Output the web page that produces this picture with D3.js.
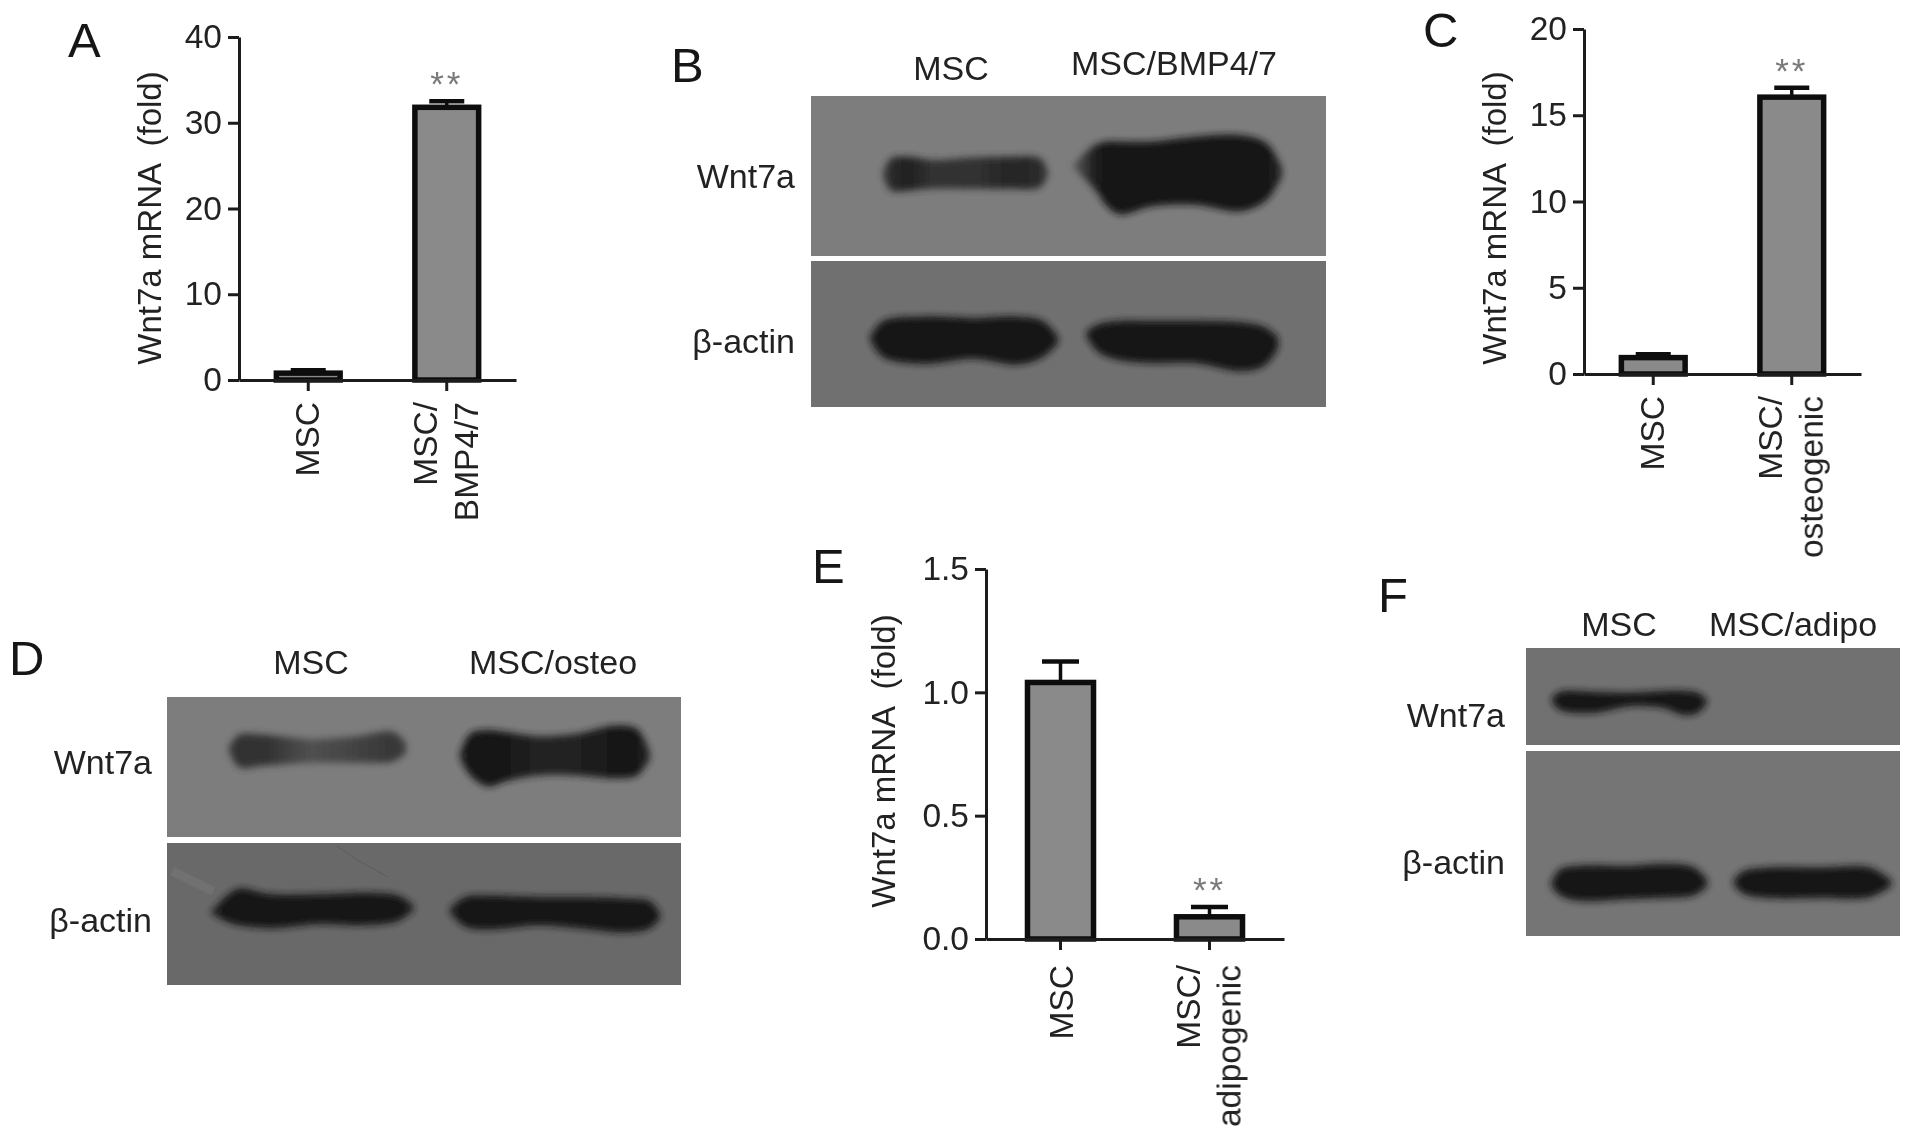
<!DOCTYPE html>
<html>
<head>
<meta charset="utf-8">
<script src="https://cdn.jsdelivr.net/npm/d3@7"></script>
<style>
	html, body { margin: 0; padding: 0; background: #fff; }
	text { font-family: "Liberation Sans", sans-serif; fill: #232323; }
</style>
</head>
<body>
<div id="wrapper"></div>
<script>
// bar chart values
const yTitle = 'Wnt7a mRNA  (fold)'

const categoriesA = [['MSC'], ['MSC/', 'BMP4/7']]
const valuesA = [0.8, 31.8]
const errorsA = [0.35, 0.7]
const ticksA = [0, 10, 20, 30, 40]

const categoriesC = [['MSC'], ['MSC/', 'osteogenic']]
const valuesC = [0.95, 16.05]
const errorsC = [0.2, 0.55]
const ticksC = [0, 5, 10, 15, 20]

const categoriesE = [['MSC'], ['MSC/', 'adipogenic']]
const valuesE = [1.04, 0.09]
const errorsE = [0.085, 0.04]
const ticksE = [0, 0.5, 1.0, 1.5]

// blot bands: [x %, top %, bottom %, grey level] measured inside each blot strip
const bandsBUpper = [
	[[14, 48, 50, 60], [15.5, 39, 59, 42], [19, 38, 59, 32], [23.5, 40, 58, 50], [31.5, 38.5, 58, 50], [38.5, 38, 58, 38], [44.5, 39, 57, 42], [46, 47, 49, 60]],
	[[51, 43, 45, 90], [55, 31, 58, 30], [57.5, 28.5, 69, 22], [60, 28.5, 74, 20], [66, 28.5, 69, 20], [74.5, 25.5, 68, 20], [83.5, 24.5, 72, 20], [88.5, 29.5, 65, 22], [91.5, 45, 50, 40]],
]
const bandsBLower = [
	[[11.5, 52, 54, 25], [14, 41, 66, 22], [22, 38, 70.5, 22], [31.5, 39, 67, 22], [40, 38, 71, 22], [45, 41, 66, 22], [48, 52, 56, 25]],
	[[53.5, 48, 52, 25], [56, 43, 63, 22], [60, 41, 68, 22], [66, 41, 70, 22], [74.7, 41, 70, 22], [83.5, 42, 75.5, 22], [88, 45, 72, 22], [90.7, 52, 60, 25]],
]
const bandsDUpper = [
	[[12, 36, 38, 60], [14, 27, 50, 48], [19, 27, 49, 48], [28, 30, 47, 80], [37, 28, 47, 66], [44, 25, 46, 55], [46.5, 33, 40, 60]],
	[[57, 40, 44, 30], [59, 26, 56, 24], [62.5, 23.5, 64, 24], [66, 25, 60, 24], [72, 28, 56, 34], [80, 26, 56, 32], [87, 20.5, 58, 24], [91.5, 23, 56, 24], [94, 40, 44, 40]],
]
const bandsDLower = [
	[[8.7, 48, 50, 28], [12, 36, 56, 24], [14, 32, 58, 24], [20, 36, 60, 24], [30, 36, 57, 24], [38, 35, 58, 24], [45, 37, 55, 24], [48, 44, 47, 28]],
	[[55, 46, 49, 28], [58, 38, 59, 24], [63, 37, 61, 24], [72, 38, 58, 24], [80, 38, 60, 24], [89, 39, 63, 24], [94, 41, 60, 24], [96, 50, 53, 28]],
]
const bandsFUpper = [
	[[6.8, 52, 54, 25], [9, 45, 64, 22], [18, 45, 67, 22], [28, 46, 60, 24], [37, 44, 62, 22], [42, 44, 69, 20], [46, 46, 67, 20], [48.5, 54, 56, 25]],
]
const bandsFLower = [
	[[6.8, 71, 73, 25], [9, 64, 78, 22], [14, 62, 81, 22], [28, 62, 80, 22], [37, 61, 79.5, 22], [45, 63, 78, 22], [48.5, 70, 73, 25]],
	[[55.5, 70, 72, 25], [58, 65, 77, 22], [64.7, 63, 79.5, 22], [78.6, 63, 79.5, 22], [92, 63, 79, 22], [97.7, 70, 73, 25]],
]
// faint scratches on the lower strip of blot D: [x %, y %]
const scratchDark = [[33, 2], [37, 12], [43, 24]]
const scratchLight = [[1, 20], [4, 25], [9, 34]]

const width = 1913
const height = 1139

const svg = d3.select('#wrapper')
	.append('svg')
	.attr('width', width)
	.attr('height', height)
	.style('display', 'block')

const defs = svg.append('defs')
defs.append('filter').attr('id', 'soft')
	.attr('x', '-5%').attr('y', '-5%').attr('width', '110%').attr('height', '110%')
	.append('feGaussianBlur').attr('stdDeviation', 0.6)
defs.append('filter').attr('id', 'bandBlur')
	.attr('x', '-10%').attr('y', '-30%').attr('width', '120%').attr('height', '160%')
	.append('feGaussianBlur').attr('stdDeviation', 3.8)

const page = svg.append('g').attr('filter', 'url(#soft)')

function drawBars(cfg) {
	const yScale = d3.scaleLinear()
		.domain([cfg.ticks[0], cfg.ticks[cfg.ticks.length - 1]])
		.range([cfg.bottom, cfg.top])

	const xScale = d3.scaleBand()
		.domain(d3.range(cfg.categories.length))
		.range([cfg.left, cfg.right])
		.paddingInner(cfg.padding)
		.paddingOuter(cfg.padding / 2)

	const stroke = 5.5
	const g = page.append('g')

	// bars first, axes go over them
	g.selectAll('rect')
		.data(cfg.values)
		.enter().append('rect')
		.attr('x', (d, i) => xScale(i) + stroke / 2)
		.attr('y', d => yScale(d))
		.attr('width', xScale.bandwidth() - stroke)
		.attr('height', d => cfg.bottom - yScale(d))
		.attr('fill', '#8a8a8a')
		.attr('stroke', '#0e0e0e')
		.attr('stroke-width', stroke)

	const center = i => xScale(i) + xScale.bandwidth() / 2

	// error bars, upper side only
	const errors = g.selectAll('.err')
		.data(cfg.values)
		.enter().append('g')
		.attr('class', 'err')
	errors.append('line')
		.attr('x1', (d, i) => center(i))
		.attr('x2', (d, i) => center(i))
		.attr('y1', d => yScale(d))
		.attr('y2', (d, i) => yScale(d + cfg.errors[i]))
		.attr('stroke', '#111')
		.attr('stroke-width', 3.5)
	errors.append('line')
		.attr('x1', (d, i) => center(i) - cfg.cap / 2)
		.attr('x2', (d, i) => center(i) + cfg.cap / 2)
		.attr('y1', (d, i) => yScale(d + cfg.errors[i]))
		.attr('y2', (d, i) => yScale(d + cfg.errors[i]))
		.attr('stroke', '#111')
		.attr('stroke-width', 4.5)

	const yAxis = d3.axisLeft(yScale)
		.tickValues(cfg.ticks)
		.tickSizeInner(11)
		.tickSizeOuter(0)
		.tickPadding(6)
		.tickFormat(cfg.format)
	const yAxisG = g.append('g')
		.attr('transform', `translate(${cfg.left},0)`)
		.call(yAxis)

	const xAxis = d3.axisBottom(xScale)
		.tickSizeInner(11)
		.tickSizeOuter(0)
		.tickFormat('')
	const xAxisG = g.append('g')
		.attr('transform', `translate(0,${cfg.bottom})`)
		.call(xAxis)

	g.selectAll('.domain, .tick line')
		.attr('stroke', '#1c1c1c')
		.attr('stroke-width', 3)
	yAxisG.selectAll('text')
		.style('font-size', '33.5px')
		.style('font-family', '"Liberation Sans", sans-serif')
		.attr('fill', '#2a2a2a')

	// rotated category labels, one or two lines
	cfg.categories.forEach((lines, i) => {
		lines.forEach((line, j) => {
			const off = lines.length === 1 ? cfg.labelSingle : j === 0 ? -10 : 31
			g.append('text')
				.attr('transform', `translate(${center(i) + off},${cfg.bottom + cfg.labelDrop}) rotate(-90)`)
				.attr('text-anchor', 'end')
				.style('font-size', '33.5px')
				.text(line)
		})
	})

	g.append('text')
		.attr('transform', `translate(${cfg.titleX},${cfg.titleY}) rotate(-90)`)
		.attr('text-anchor', 'middle')
		.attr('xml:space', 'preserve')
		.style('white-space', 'pre')
		.style('font-size', '33px')
		.text(yTitle)

	// significance marks sit just above the error cap
	cfg.stars.forEach(i => {
		g.append('text')
			.attr('x', center(i))
			.attr('y', yScale(cfg.values[i] + cfg.errors[i]) - 5)
			.attr('text-anchor', 'middle')
			.style('font-size', '35px')
			.style('letter-spacing', '3px')
			.style('fill', '#7a7a7a')
			.text('**')
	})
}

let bandId = 0

function drawStrip(g, xScale, y0, y1, background, bands) {
	const yScale = d3.scaleLinear().domain([0, 100]).range([y0, y1])
	const clipId = `strip${bandId++}`
	defs.append('clipPath').attr('id', clipId)
		.append('rect')
		.attr('x', xScale(0))
		.attr('y', y0)
		.attr('width', xScale(100) - xScale(0))
		.attr('height', y1 - y0)

	g.append('rect')
		.attr('x', xScale(0))
		.attr('y', y0)
		.attr('width', xScale(100) - xScale(0))
		.attr('height', y1 - y0)
		.attr('fill', background)

	const area = d3.area()
		.x(d => xScale(d[0]))
		.y0(d => yScale(d[1]))
		.y1(d => yScale(d[2]))
		.curve(d3.curveCatmullRom)

	const inner = g.append('g')
		.attr('clip-path', `url(#${clipId})`)
		.append('g')
		.attr('filter', 'url(#bandBlur)')

	bands.forEach(band => {
		const id = `band${bandId++}`
		const first = band[0][0]
		const last = band[band.length - 1][0]
		defs.append('linearGradient')
			.attr('id', id)
			.attr('gradientUnits', 'userSpaceOnUse')
			.attr('x1', xScale(first))
			.attr('x2', xScale(last))
			.attr('y1', 0)
			.attr('y2', 0)
			.selectAll('stop')
			.data(band)
			.enter().append('stop')
			.attr('offset', d => (d[0] - first) / (last - first))
			.attr('stop-color', d => d3.rgb(d[3], d[3], d[3]).formatHex())

		inner.append('path')
			.attr('d', area(band))
			.attr('fill', `url(#${id})`)
	})
	return { xScale, yScale }
}

function drawBlot(cfg) {
	const g = page.append('g')
	const xScale = d3.scaleLinear().domain([0, 100]).range([cfg.left, cfg.right])

	drawStrip(g, xScale, cfg.upper[0], cfg.upper[1], cfg.upperFill, cfg.upperBands)
	const lower = drawStrip(g, xScale, cfg.lower[0], cfg.lower[1], cfg.lowerFill, cfg.lowerBands)

	if (cfg.scratches) {
		const line = d3.line().x(d => lower.xScale(d[0])).y(d => lower.yScale(d[1]))
		g.append('path').attr('d', line(scratchDark))
			.attr('fill', 'none').attr('stroke', '#5c5c5c').attr('stroke-width', 1)
		g.append('path').attr('d', line(scratchLight))
			.attr('fill', 'none').attr('stroke', '#717171').attr('stroke-width', 9)
	}

	cfg.lanes.forEach(d => {
		g.append('text')
			.attr('x', d.x)
			.attr('y', d.y)
			.attr('text-anchor', 'middle')
			.style('font-size', '34px')
			.text(d.label)
	})
	cfg.rows.forEach(d => {
		g.append('text')
			.attr('x', cfg.rowRight)
			.attr('y', d.y)
			.attr('text-anchor', 'end')
			.style('font-size', '34px')
			.text(d.label)
	})
}

drawBars({
	categories: categoriesA, values: valuesA, errors: errorsA, ticks: ticksA,
	left: 239, right: 516, top: 37, bottom: 380, padding: 0.5, cap: 35, labelSingle: 11, labelDrop: 22,
	titleX: 161, titleY: 218, stars: [1], format: d3.format('d'),
})
drawBars({
	categories: categoriesC, values: valuesC, errors: errorsC, ticks: ticksC,
	left: 1584, right: 1861, top: 29, bottom: 374, padding: 0.5, cap: 35, labelSingle: 11, labelDrop: 22,
	titleX: 1506, titleY: 218, stars: [1], format: d3.format('d'),
})
drawBars({
	categories: categoriesE, values: valuesE, errors: errorsE, ticks: ticksE,
	left: 986, right: 1284, top: 569, bottom: 939, padding: 0.52, cap: 37, labelSingle: 12, labelDrop: 26,
	titleX: 895, titleY: 761, stars: [1], format: d3.format('.1f'),
})

drawBlot({
	left: 811, right: 1326, upper: [96, 256], lower: [261, 407],
	upperFill: '#7d7d7d', lowerFill: '#707070',
	upperBands: bandsBUpper, lowerBands: bandsBLower,
	lanes: [{ label: 'MSC', x: 951, y: 80 }, { label: 'MSC/BMP4/7', x: 1174, y: 75 }],
	rows: [{ label: 'Wnt7a', y: 188 }, { label: 'β-actin', y: 353 }], rowRight: 795,
})
drawBlot({
	left: 167, right: 681, upper: [697, 837], lower: [843, 985],
	upperFill: '#7d7d7d', lowerFill: '#696969',
	upperBands: bandsDUpper, lowerBands: bandsDLower, scratches: true,
	lanes: [{ label: 'MSC', x: 311, y: 674 }, { label: 'MSC/osteo', x: 553, y: 674 }],
	rows: [{ label: 'Wnt7a', y: 774 }, { label: 'β-actin', y: 932 }], rowRight: 152,
})
drawBlot({
	left: 1526, right: 1900, upper: [648, 745], lower: [751, 936],
	upperFill: '#717171', lowerFill: '#747474',
	upperBands: bandsFUpper, lowerBands: bandsFLower,
	lanes: [{ label: 'MSC', x: 1619, y: 636 }, { label: 'MSC/adipo', x: 1793, y: 636 }],
	rows: [{ label: 'Wnt7a', y: 727 }, { label: 'β-actin', y: 874 }], rowRight: 1505,
})

// panel letters
const panelLetters = ['A', 'B', 'C', 'D', 'E', 'F']
const letterX = [68, 671, 1423, 9, 812, 1378]
const letterY = [57, 82, 47, 675, 583, 612]
page.selectAll('.letter')
	.data(panelLetters)
	.enter().append('text')
	.attr('class', 'letter')
	.attr('x', (d, i) => letterX[i])
	.attr('y', (d, i) => letterY[i])
	.style('font-size', '49px')
	.style('fill', '#141414')
	.text(d => d)
</script>
</body>
</html>
